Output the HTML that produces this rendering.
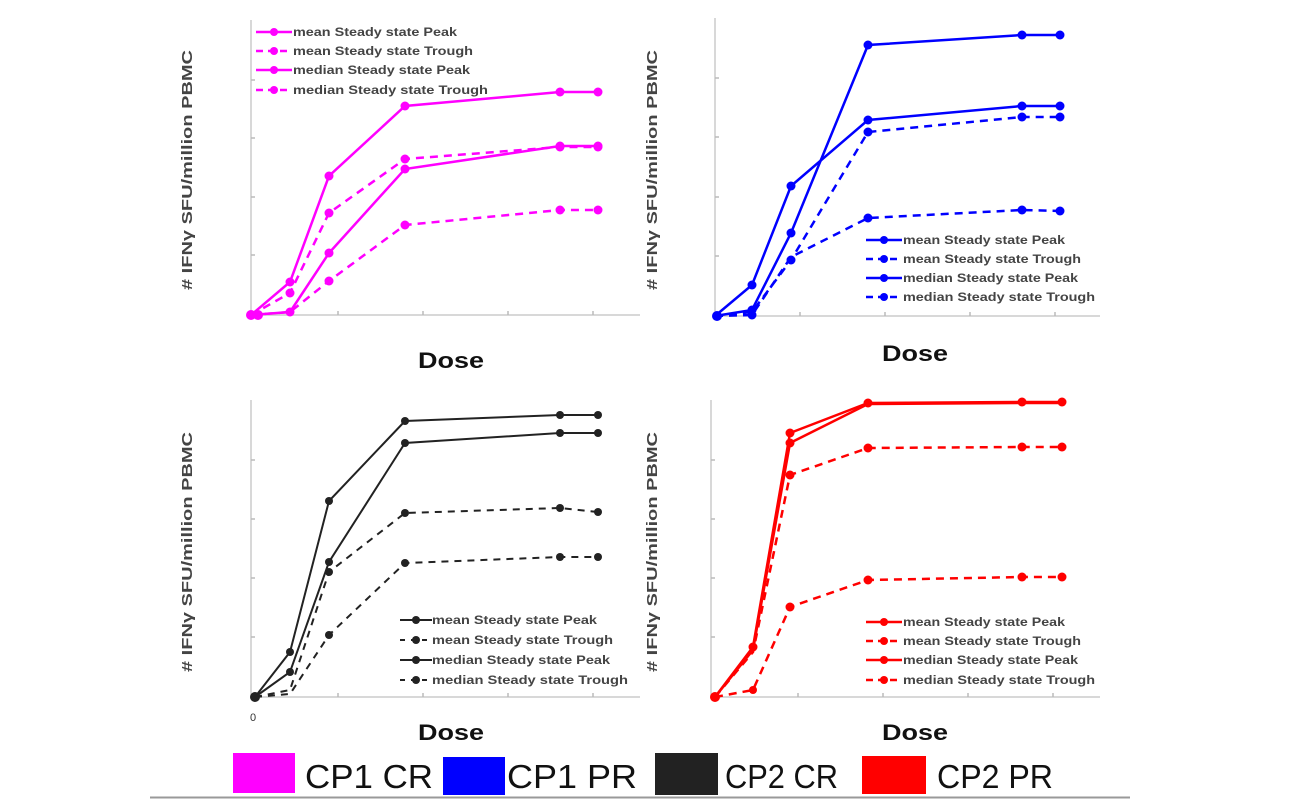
<!DOCTYPE html>
<html><head><meta charset="utf-8"><style>
html,body{margin:0;padding:0;background:#fff;}
svg{display:block;}
text{font-family:"Liberation Sans",sans-serif;}
</style></head><body>
<svg width="1292" height="800" viewBox="0 0 1292 800" xmlns="http://www.w3.org/2000/svg">
<rect width="1292" height="800" fill="#fff"/>
<g stroke="#ccc" stroke-width="1.5" fill="none">
<path d="M251 20V315H640"/><path d="M715 18V316H1100"/>
<path d="M251 400V697H640"/><path d="M711 400V697H1100"/>
</g>
<g stroke="#bbb" stroke-width="1.5">
<path d="M338 315v-4M423 315v-4M508 315v-4M593 315v-4M251 255h4M251 197h4M251 138h4M251 80h4"/>
<path d="M800 316v-4M885 316v-4M970 316v-4M1055 316v-4M715 256h4M715 197h4M715 137h4M715 78h4"/>
<path d="M338 697v-4M423 697v-4M508 697v-4M593 697v-4M251 637h4M251 578h4M251 519h4M251 460h4"/>
<path d="M798 697v-4M883 697v-4M968 697v-4M1053 697v-4M711 637h4M711 578h4M711 519h4M711 460h4"/>
</g>
<g font-size="15" font-weight="bold" fill="#444">
<text transform="translate(192,170) rotate(-90)" text-anchor="middle" textLength="240" lengthAdjust="spacingAndGlyphs"># IFNγ SFU/million PBMC</text>
<text transform="translate(657,170) rotate(-90)" text-anchor="middle" textLength="240" lengthAdjust="spacingAndGlyphs"># IFNγ SFU/million PBMC</text>
<text transform="translate(192,552) rotate(-90)" text-anchor="middle" textLength="240" lengthAdjust="spacingAndGlyphs"># IFNγ SFU/million PBMC</text>
<text transform="translate(657,552) rotate(-90)" text-anchor="middle" textLength="240" lengthAdjust="spacingAndGlyphs"># IFNγ SFU/million PBMC</text>
</g>
<g font-size="22" font-weight="bold" fill="#111">
<text x="418" y="368" textLength="66" lengthAdjust="spacingAndGlyphs">Dose</text>
<text x="882" y="361" textLength="66" lengthAdjust="spacingAndGlyphs">Dose</text>
<text x="418" y="740" textLength="66" lengthAdjust="spacingAndGlyphs">Dose</text>
<text x="882" y="740" textLength="66" lengthAdjust="spacingAndGlyphs">Dose</text>
</g>
<text x="253" y="721" font-size="11" fill="#333" text-anchor="middle">0</text>
<!-- Panel 1 magenta -->
<g stroke="#f0f" fill="none" stroke-width="2.5">
<polyline points="251,315 290,282 329,176 405,106 560,92 598,92"/>
<polyline points="251,315 290,293 329,213 405,159 560,147 598,147" stroke-dasharray="8,6"/>
<polyline points="251,315 290,312 329,253 405,169 560,146 598,146"/>
<polyline points="251,315 290,312 329,281 405,225 560,210 598,210" stroke-dasharray="8,6"/>
</g>
<g fill="#f0f">
<circle cx="251" cy="315" r="5"/><circle cx="258" cy="315" r="5"/>
<circle cx="290" cy="282" r="4.5"/><circle cx="329" cy="176" r="4.5"/><circle cx="405" cy="106" r="4.5"/><circle cx="560" cy="92" r="4.5"/><circle cx="598" cy="92" r="4.5"/>
<circle cx="290" cy="293" r="4.5"/><circle cx="329" cy="213" r="4.5"/><circle cx="405" cy="159" r="4.5"/><circle cx="560" cy="147" r="4.5"/><circle cx="598" cy="147" r="4.5"/>
<circle cx="290" cy="312" r="4.5"/><circle cx="329" cy="253" r="4.5"/><circle cx="405" cy="169" r="4.5"/><circle cx="560" cy="146" r="4.5"/><circle cx="598" cy="146" r="4.5"/>
<circle cx="329" cy="281" r="4.5"/><circle cx="405" cy="225" r="4.5"/><circle cx="560" cy="210" r="4.5"/><circle cx="598" cy="210" r="4.5"/>
</g>
<g font-size="12" font-weight="bold" fill="#444">
<g stroke="#f0f" stroke-width="2.5"><path d="M256 32h36"/><path d="M256 51h36" stroke-dasharray="7,5"/><path d="M256 70h36"/><path d="M256 90h36" stroke-dasharray="7,5"/></g>
<g fill="#f0f"><circle cx="274" cy="32" r="4"/><circle cx="274" cy="51" r="4"/><circle cx="274" cy="70" r="4"/><circle cx="274" cy="90" r="4"/></g>
<text x="293" y="36" textLength="164" lengthAdjust="spacingAndGlyphs">mean Steady state Peak</text>
<text x="293" y="55" textLength="180" lengthAdjust="spacingAndGlyphs">mean Steady state Trough</text>
<text x="293" y="74" textLength="177" lengthAdjust="spacingAndGlyphs">median Steady state Peak</text>
<text x="293" y="94" textLength="195" lengthAdjust="spacingAndGlyphs">median Steady state Trough</text>
</g>
<!-- Panel 2 blue -->
<g stroke="#00f" fill="none" stroke-width="2.5">
<polyline points="715,316 752,310 791,233 868,45 1022,35 1060,35"/>
<polyline points="715,316 752,285 791,186 868,120 1022,106 1060,106"/>
<polyline points="715,316 752,312 791,260 868,132 1022,117 1060,117" stroke-dasharray="8,6"/>
<polyline points="715,316 752,315 791,257 868,218 1022,210 1060,211" stroke-dasharray="8,6"/>
</g>
<g fill="#00f">
<circle cx="717" cy="316" r="5"/><circle cx="752" cy="310" r="4.5"/><circle cx="791" cy="233" r="4.5"/><circle cx="868" cy="45" r="4.5"/><circle cx="1022" cy="35" r="4.5"/><circle cx="1060" cy="35" r="4.5"/>
<circle cx="752" cy="285" r="4.5"/><circle cx="791" cy="186" r="4.5"/><circle cx="868" cy="120" r="4.5"/><circle cx="1022" cy="106" r="4.5"/><circle cx="1060" cy="106" r="4.5"/>
<circle cx="791" cy="260" r="4.5"/><circle cx="868" cy="132" r="4.5"/><circle cx="1022" cy="117" r="4.5"/><circle cx="1060" cy="117" r="4.5"/>
<circle cx="752" cy="315" r="4.5"/><circle cx="868" cy="218" r="4.5"/><circle cx="1022" cy="210" r="4.5"/><circle cx="1060" cy="211" r="4.5"/>
</g>
<g font-size="12" font-weight="bold" fill="#444">
<g stroke="#00f" stroke-width="2.5"><path d="M866 240h36"/><path d="M866 259h36" stroke-dasharray="7,5"/><path d="M866 278h36"/><path d="M866 297h36" stroke-dasharray="7,5"/></g>
<g fill="#00f"><circle cx="884" cy="240" r="4"/><circle cx="884" cy="259" r="4"/><circle cx="884" cy="278" r="4"/><circle cx="884" cy="297" r="4"/></g>
<text x="903" y="244" textLength="162" lengthAdjust="spacingAndGlyphs">mean Steady state Peak</text>
<text x="903" y="263" textLength="178" lengthAdjust="spacingAndGlyphs">mean Steady state Trough</text>
<text x="903" y="282" textLength="175" lengthAdjust="spacingAndGlyphs">median Steady state Peak</text>
<text x="903" y="301" textLength="192" lengthAdjust="spacingAndGlyphs">median Steady state Trough</text>
</g>
<!-- Panel 3 black -->
<g stroke="#222" fill="none" stroke-width="2">
<polyline points="255,697 290,652 329,501 405,421 560,415 598,415"/>
<polyline points="255,697 290,672 329,562 405,443 560,433 598,433"/>
<polyline points="255,697 290,690 329,572 405,513 560,508 598,512" stroke-dasharray="7,6"/>
<polyline points="255,697 290,694 329,635 405,563 560,557 598,557" stroke-dasharray="7,6"/>
</g>
<g fill="#222">
<circle cx="255" cy="697" r="5"/><circle cx="290" cy="652" r="4"/><circle cx="329" cy="501" r="4"/><circle cx="405" cy="421" r="4"/><circle cx="560" cy="415" r="4"/><circle cx="598" cy="415" r="4"/>
<circle cx="290" cy="672" r="4"/><circle cx="329" cy="562" r="4"/><circle cx="405" cy="443" r="4"/><circle cx="560" cy="433" r="4"/><circle cx="598" cy="433" r="4"/>
<circle cx="329" cy="572" r="4"/><circle cx="405" cy="513" r="4"/><circle cx="560" cy="508" r="4"/><circle cx="598" cy="512" r="4"/>
<circle cx="329" cy="635" r="4"/><circle cx="405" cy="563" r="4"/><circle cx="560" cy="557" r="4"/><circle cx="598" cy="557" r="4"/>
</g>
<g font-size="12" font-weight="bold" fill="#444">
<g stroke="#222" stroke-width="2"><path d="M400 620h32"/><path d="M400 640h32" stroke-dasharray="5,6"/><path d="M400 660h32"/><path d="M400 680h32" stroke-dasharray="5,6"/></g>
<g fill="#222"><circle cx="416" cy="620" r="4"/><circle cx="416" cy="640" r="4"/><circle cx="416" cy="660" r="4"/><circle cx="416" cy="680" r="4"/></g>
<text x="432" y="624" textLength="165" lengthAdjust="spacingAndGlyphs">mean Steady state Peak</text>
<text x="432" y="644" textLength="181" lengthAdjust="spacingAndGlyphs">mean Steady state Trough</text>
<text x="432" y="664" textLength="178" lengthAdjust="spacingAndGlyphs">median Steady state Peak</text>
<text x="432" y="684" textLength="196" lengthAdjust="spacingAndGlyphs">median Steady state Trough</text>
</g>
<!-- Panel 4 red -->
<g stroke="#f00" fill="none" stroke-width="2.5">
<polyline points="715,697 753,647 790,433 868,403 1022,402 1062,402"/>
<polyline points="715,697 753,650 790,443 868,404 1022,403 1062,403"/>
<polyline points="715,697 753,652 790,475 868,448 1022,447 1062,447" stroke-dasharray="8,6"/>
<polyline points="715,697 753,690 790,607 868,580 1022,577 1062,577" stroke-dasharray="8,6"/>
</g>
<g fill="#f00">
<circle cx="715" cy="697" r="5"/><circle cx="753" cy="647" r="4.5"/><circle cx="790" cy="433" r="4.5"/><circle cx="790" cy="443" r="4.5"/><circle cx="868" cy="403" r="4.5"/><circle cx="1022" cy="402" r="4.5"/><circle cx="1062" cy="402" r="4.5"/>
<circle cx="790" cy="475" r="4.5"/><circle cx="868" cy="448" r="4.5"/><circle cx="1022" cy="447" r="4.5"/><circle cx="1062" cy="447" r="4.5"/>
<circle cx="753" cy="690" r="4"/><circle cx="790" cy="607" r="4.5"/><circle cx="868" cy="580" r="4.5"/><circle cx="1022" cy="577" r="4.5"/><circle cx="1062" cy="577" r="4.5"/>
</g>
<g font-size="12" font-weight="bold" fill="#444">
<g stroke="#f00" stroke-width="2.5"><path d="M866 622h36"/><path d="M866 641h36" stroke-dasharray="7,5"/><path d="M866 660h36"/><path d="M866 680h36" stroke-dasharray="7,5"/></g>
<g fill="#f00"><circle cx="884" cy="622" r="4"/><circle cx="884" cy="641" r="4"/><circle cx="884" cy="660" r="4"/><circle cx="884" cy="680" r="4"/></g>
<text x="903" y="626" textLength="162" lengthAdjust="spacingAndGlyphs">mean Steady state Peak</text>
<text x="903" y="645" textLength="178" lengthAdjust="spacingAndGlyphs">mean Steady state Trough</text>
<text x="903" y="664" textLength="175" lengthAdjust="spacingAndGlyphs">median Steady state Peak</text>
<text x="903" y="684" textLength="192" lengthAdjust="spacingAndGlyphs">median Steady state Trough</text>
</g>
<!-- bottom legend -->
<rect x="233" y="753" width="62" height="40" fill="#f0f"/>
<rect x="443" y="757" width="62" height="38" fill="#00f"/>
<rect x="655" y="753" width="63" height="42" fill="#222"/>
<rect x="862" y="756" width="64" height="38" fill="#f00"/>
<g font-size="33" fill="#111">
<text x="305" y="788" textLength="128" lengthAdjust="spacingAndGlyphs">CP1 CR</text>
<text x="507" y="788" textLength="130" lengthAdjust="spacingAndGlyphs">CP1 PR</text>
<text x="725" y="788" textLength="113" lengthAdjust="spacingAndGlyphs">CP2 CR</text>
<text x="937" y="788" textLength="116" lengthAdjust="spacingAndGlyphs">CP2 PR</text>
</g>
<path d="M150 797.5H1130" stroke="#999" stroke-width="2"/>
</svg>
</body></html>
